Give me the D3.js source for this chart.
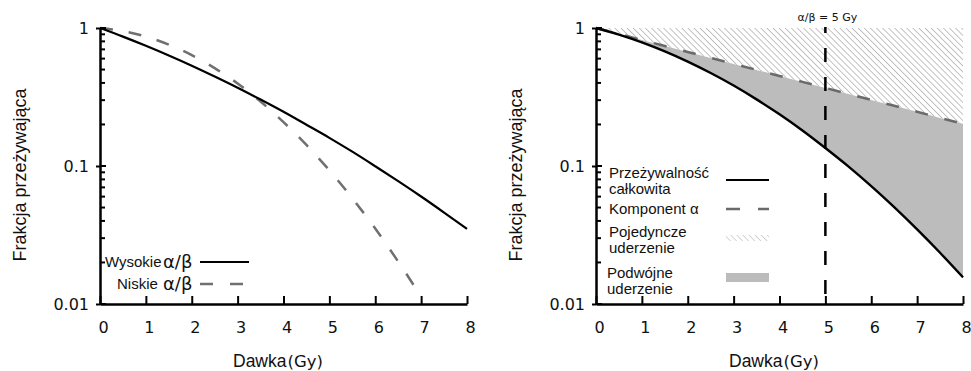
<!DOCTYPE html>
<html>
<head>
<meta charset="utf-8">
<script src="https://cdn.jsdelivr.net/npm/d3@7"></script>
<style>
body { margin: 0; background: #fff; }
text { font-family: "Liberation Sans", Arial, sans-serif; fill: #111; }
.num { font-family: "DejaVu Sans", Verdana, sans-serif; }
</style>
</head>
<body>
<svg id="chart" width="971" height="371"></svg>
<script>

// dose grid (Gy)
let doses = [0, 0.5, 1, 1.5, 2, 2.5, 3, 3.5, 4, 4.5, 5, 5.5, 6, 6.5, 7, 7.5, 8];

// left panel: high and low alpha/beta survival curves
let highAB = [1, 0.866, 0.743, 0.632, 0.533, 0.445, 0.369, 0.303, 0.247, 0.199, 0.160, 0.127, 0.0996, 0.0777, 0.0601, 0.0460, 0.0350];
let lowAB  = [1, 0.950, 0.867, 0.758, 0.636, 0.512, 0.396, 0.293, 0.208, 0.142, 0.093, 0.0584, 0.0352, 0.0203, 0.0113];

// right panel: total survival and alpha component
let totalSurv = [1, 0.896, 0.787, 0.677, 0.571, 0.472, 0.383, 0.304, 0.237, 0.181, 0.135, 0.0993, 0.0714, 0.0503, 0.0347, 0.0235, 0.0156];
let alphaComp = [1, 0.905, 0.819, 0.741, 0.670, 0.607, 0.549, 0.497, 0.449, 0.407, 0.368, 0.333, 0.301, 0.273, 0.247, 0.223, 0.202];

let xTicks = [0, 1, 2, 3, 4, 5, 6, 7, 8];
let yTicks = [1, 0.1, 0.01];
let yTickLabels = ["1", "0.1", "0.01"];
let minorTicks = [0.02, 0.03, 0.04, 0.05, 0.06, 0.07, 0.08, 0.09, 0.2, 0.3, 0.4, 0.5, 0.6, 0.7, 0.8, 0.9];
let abMarker = 5;

let svg = d3.select("#chart");
let plotW = 367, plotH = 276, plotTop = 28;

// hatch pattern for "single hit"
let defs = svg.append("defs");
let pat = defs.append("pattern")
    .attr("id", "hatch")
    .attr("patternUnits", "userSpaceOnUse")
    .attr("width", 4.3).attr("height", 4.3)
    .attr("patternTransform", "rotate(-45)");
pat.append("line")
    .attr("x1", 0).attr("y1", 0).attr("x2", 0).attr("y2", 4.3)
    .attr("stroke", "#9c9c9c").attr("stroke-width", 1.2);

function makePanel(left){
    let g = svg.append("g").attr("transform", "translate(" + left + "," + plotTop + ")");
    let x = d3.scaleLinear().domain([0, 8]).range([0, plotW]);
    let y = d3.scaleLog().domain([0.01, 1]).range([plotH, 0]);
    return {g: g, x: x, y: y};
}

function drawAxes(p){
    let g = p.g, x = p.x, y = p.y;

    let xa = g.append("g")
        .attr("transform", "translate(0," + plotH + ")")
        .call(d3.axisBottom(x).tickValues(xTicks).tickSizeInner(-8).tickSizeOuter(0).tickPadding(18).tickFormat(d3.format("d")));
    xa.select(".domain").attr("stroke", "#000").attr("stroke-width", 2.5);
    xa.selectAll(".tick line").attr("stroke", "#000").attr("stroke-width", 2);
    xa.selectAll(".tick text").attr("class", "num").attr("dx", 3).style("font-size", "16px").style("fill", "#111");

    let ya = g.append("g")
        .call(d3.axisLeft(y).tickValues(yTicks).tickFormat((d, i) => yTickLabels[i]).tickSizeInner(4).tickSizeOuter(0).tickPadding(7));
    ya.select(".domain").attr("stroke", "#000").attr("stroke-width", 2.5);
    ya.selectAll(".tick line").attr("stroke", "#000").attr("stroke-width", 2);
    ya.selectAll(".tick text").attr("class", "num").style("font-size", "16px").style("fill", "#111");

    // inward ticks (major + minor)
    g.selectAll(".minor")
        .data(minorTicks.concat(yTicks))
        .enter().append("line")
        .attr("x1", 0).attr("x2", d => yTicks.includes(d) ? 6 : 5)
        .attr("y1", d => y(d)).attr("y2", d => y(d))
        .attr("stroke", "#000").attr("stroke-width", 2);

    // axis titles
    g.append("text")
        .attr("transform", "rotate(-90)")
        .attr("x", -147).attr("y", -74)
        .attr("text-anchor", "middle")
        .style("font-size", "18px")
        .text("Frakcja przeżywająca");

    let t = g.append("text")
        .attr("x", 133).attr("y", 339)
        .style("font-size", "17.5px");
    t.append("tspan").text("Dawka");
    t.append("tspan").attr("class", "num").attr("dx", 1).style("font-size", "16.5px").text("(Gy)");
}

function lineGen(p){
    return d3.line()
        .x((d, i) => p.x(doses[i]))
        .y(d => p.y(d))
        .curve(d3.curveMonotoneX);
}

// ---------- left panel ----------
let L = makePanel(100);

L.g.append("path")
    .attr("d", lineGen(L)(lowAB))
    .attr("fill", "none").attr("stroke", "#707070")
    .attr("stroke-width", 2.5).attr("stroke-dasharray", "13,16");

L.g.append("path")
    .attr("d", lineGen(L)(highAB))
    .attr("fill", "none").attr("stroke", "#000").attr("stroke-width", 2.2);

drawAxes(L);

// left legend
let legL = L.g.append("g");
legL.append("text").attr("x", 5).attr("y", 239).style("font-size", "15px").text("Wysokie");
legL.append("text").attr("x", 63).attr("y", 240).attr("class", "num").style("font-size", "18px").text("α/β");
legL.append("line").attr("x1", 100).attr("x2", 149).attr("y1", 234).attr("y2", 234)
    .attr("stroke", "#000").attr("stroke-width", 2.2);
legL.append("text").attr("x", 17).attr("y", 261).style("font-size", "15px").text("Niskie");
legL.append("text").attr("x", 63).attr("y", 262).attr("class", "num").style("font-size", "18px").text("α/β");
legL.append("line").attr("x1", 100).attr("x2", 143).attr("y1", 256).attr("y2", 256)
    .attr("stroke", "#707070").attr("stroke-width", 2.5).attr("stroke-dasharray", "13,17");

// ---------- right panel ----------
let R = makePanel(596);

let hatchArea = d3.area()
    .x((d, i) => R.x(doses[i]))
    .y0(R.y(1))
    .y1(d => R.y(d))
    .curve(d3.curveMonotoneX);
R.g.append("path").attr("d", hatchArea(alphaComp)).attr("fill", "url(#hatch)");

let greyArea = d3.area()
    .x((d, i) => R.x(doses[i]))
    .y0((d, i) => R.y(alphaComp[i]))
    .y1(d => R.y(d))
    .curve(d3.curveMonotoneX);
R.g.append("path").attr("d", greyArea(totalSurv)).attr("fill", "#bcbcbc");

R.g.append("path")
    .attr("d", lineGen(R)(alphaComp))
    .attr("fill", "none").attr("stroke", "#6a6a6a")
    .attr("stroke-width", 2.5).attr("stroke-dasharray", "13,17");

R.g.append("path")
    .attr("d", lineGen(R)(totalSurv))
    .attr("fill", "none").attr("stroke", "#000").attr("stroke-width", 2.4);

// alpha/beta marker
R.g.append("line")
    .attr("x1", R.x(abMarker)).attr("x2", R.x(abMarker))
    .attr("y1", -1).attr("y2", plotH)
    .attr("stroke", "#000").attr("stroke-width", 2.5)
    .attr("stroke-dasharray", "14,15").attr("stroke-dashoffset", 8);
R.g.append("text")
    .attr("x", R.x(abMarker) + 2).attr("y", -7)
    .attr("text-anchor", "middle").attr("class", "num")
    .style("font-size", "11px")
    .text("α/β = 5 Gy");

drawAxes(R);

// right legend
let legR = R.g.append("g");
let lx = 13, sx = 130, sw = 43;
legR.append("text").attr("x", lx).attr("y", 150).style("font-size", "15px").text("Przeżywalność");
legR.append("text").attr("x", lx).attr("y", 166).style("font-size", "15px").text("całkowita");
legR.append("line").attr("x1", sx).attr("x2", sx + sw).attr("y1", 152).attr("y2", 152)
    .attr("stroke", "#000").attr("stroke-width", 2.2);
legR.append("text").attr("x", lx).attr("y", 186).style("font-size", "15px").text("Komponent α");
legR.append("line").attr("x1", sx).attr("x2", sx + sw).attr("y1", 181).attr("y2", 181)
    .attr("stroke", "#6a6a6a").attr("stroke-width", 2.5).attr("stroke-dasharray", "14,18");
legR.append("text").attr("x", lx).attr("y", 209).style("font-size", "15px").text("Pojedyncze");
legR.append("text").attr("x", lx).attr("y", 225).style("font-size", "15px").text("uderzenie");
legR.append("rect").attr("x", sx).attr("y", 207).attr("width", sw).attr("height", 6)
    .attr("fill", "url(#hatch)").attr("opacity", 0.7);
legR.append("text").attr("x", lx - 2).attr("y", 250).style("font-size", "15px").text("Podwójne");
legR.append("text").attr("x", lx - 2).attr("y", 266).style("font-size", "15px").text("uderzenie");
legR.append("rect").attr("x", sx).attr("y", 245).attr("width", sw).attr("height", 9)
    .attr("fill", "#bcbcbc");

</script>
</body>
</html>
